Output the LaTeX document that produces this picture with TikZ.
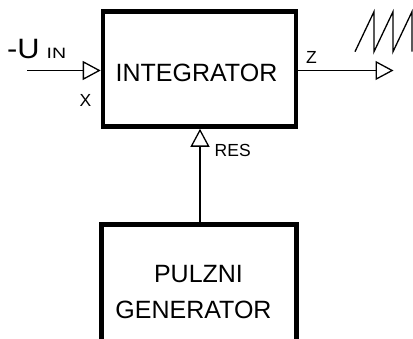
\documentclass[tikz,border=0pt]{standalone}
\usepackage{fontspec}
\usepackage{graphicx}
\setmainfont{Liberation Sans}
\usetikzlibrary{arrows.meta}
\begin{document}
\begin{tikzpicture}[x=1pt,y=-1pt,
  block/.style={draw=black,line width=4.6pt,fill=none},
  wire/.style={line width=1.3pt},
  openarrow/.style={wire,-{Triangle[open,length=18pt,width=19pt,line width=1.3pt]}},
  big/.style={inner sep=0pt,font=\fontsize{25}{25}\selectfont},
  lbl/.style={inner sep=0pt,font=\fontsize{17.5}{17.5}\selectfont},
  sub/.style={inner sep=0pt,font=\fontsize{15}{15}\selectfont}]
\useasboundingbox (0,0) rectangle (413,339);
\clip (0,0) rectangle (413,339);
% blocks
\draw[block] (103,11.5) rectangle (296,126.5);
\coordinate (intW) at (100.7,70.5);
\coordinate (intE) at (298.3,70.5);
\coordinate (intS) at (200,128.8);
\draw[block] (101.5,224.5) rectangle (296.5,360);
\coordinate (genN) at (200,222.2);
% texts
\node[big,anchor=base] (tint) at (196.5,81.5) {INTEGRATOR};
\node[big,anchor=base] (tpul) at (198.5,283) {PULZNI};
\node[big,anchor=base] (tgen) at (193.5,319) {GENERATOR};
\node[inner sep=0pt,font=\fontsize{28}{28}\selectfont,anchor=base west] (tu) at (7,58.3) {\scalebox{1.1}[1]{-U}};
\node[sub,anchor=base west] (tin) at (46.5,59) {\scalebox{1.3}[1]{IN}};
\node[lbl,anchor=base] (tx) at (85.5,106.5) {X};
\node[lbl,anchor=base] (tz) at (311.5,63.5) {Z};
\node[lbl,anchor=base west] (tres) at (214.5,156.8) {RES};
% connectors
\coordinate (inS) at (27,70.5);
\coordinate (outE) at (393.5,70.5);
\draw[openarrow] (inS) -- (intW);
\draw[openarrow] (intE) -- (outE);
\draw[openarrow] (genN) -- (intS);
% sawtooth
\draw[wire,line join=miter] (355,51.7) -- (374,11.7) -- (374,51.7) -- (393,11.7) -- (393,51.7) -- (412,11.7) -- (412,51.7);
\end{tikzpicture}
\end{document}
